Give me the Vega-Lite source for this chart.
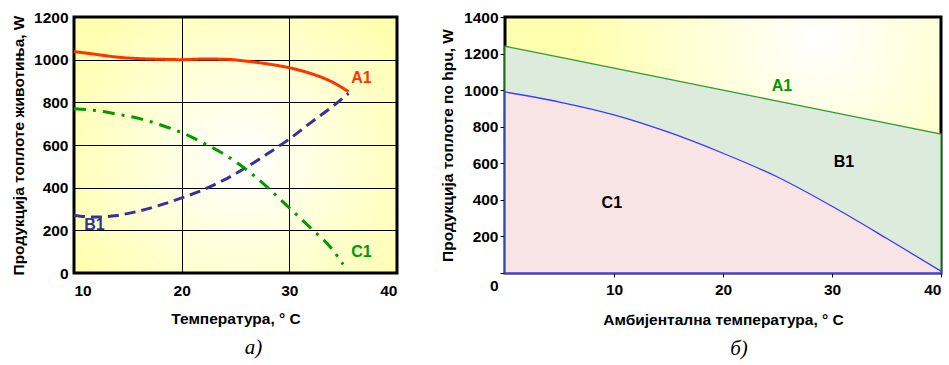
{
  "$schema": "https://vega.github.io/schema/vega-lite/v6.json",
  "padding": {"left": 10, "top": 8, "right": 5, "bottom": 5},
  "background": "white",
  "resolve": {"scale": {"color": "independent", "strokeDash": "independent"}},
  "config": {
    "font": "Liberation Sans",
    "axis": {"labelFont": "Liberation Sans", "labelFontWeight": "bold", "labelFontSize": 15.5, "labelColor": "black", "labelOverlap": false, "format": "d", "titleFont": "Liberation Sans", "titleFontWeight": "bold", "titleFontSize": 15.5, "titleColor": "black"},
    "concat": {"spacing": 40}
  },
  "datasets": {
    "left": [
      {"t": 10, "s": "A1", "w": 1038}, {"t": 12, "s": "A1", "w": 1025}, {"t": 14, "s": "A1", "w": 1012}, {"t": 16, "s": "A1", "w": 1005}, {"t": 18, "s": "A1", "w": 1002}, {"t": 20, "s": "A1", "w": 1000}, {"t": 22, "s": "A1", "w": 1003}, {"t": 24, "s": "A1", "w": 1002}, {"t": 26, "s": "A1", "w": 993}, {"t": 28, "s": "A1", "w": 980}, {"t": 30, "s": "A1", "w": 962}, {"t": 32, "s": "A1", "w": 935}, {"t": 34, "s": "A1", "w": 895}, {"t": 35.5, "s": "A1", "w": 850},
      {"t": 10, "s": "B1", "w": 270}, {"t": 11, "s": "B1", "w": 265}, {"t": 12, "s": "B1", "w": 262}, {"t": 14, "s": "B1", "w": 270}, {"t": 16, "s": "B1", "w": 290}, {"t": 18, "s": "B1", "w": 318}, {"t": 20, "s": "B1", "w": 352}, {"t": 22, "s": "B1", "w": 390}, {"t": 24, "s": "B1", "w": 438}, {"t": 26, "s": "B1", "w": 495}, {"t": 28, "s": "B1", "w": 560}, {"t": 30, "s": "B1", "w": 628}, {"t": 32, "s": "B1", "w": 705}, {"t": 34, "s": "B1", "w": 780}, {"t": 35.5, "s": "B1", "w": 842},
      {"t": 10, "s": "C1", "w": 770}, {"t": 12, "s": "C1", "w": 762}, {"t": 14, "s": "C1", "w": 745}, {"t": 16, "s": "C1", "w": 725}, {"t": 18, "s": "C1", "w": 695}, {"t": 20, "s": "C1", "w": 658}, {"t": 22, "s": "C1", "w": 610}, {"t": 24, "s": "C1", "w": 555}, {"t": 26, "s": "C1", "w": 485}, {"t": 28, "s": "C1", "w": 400}, {"t": 30, "s": "C1", "w": 305}, {"t": 32, "s": "C1", "w": 210}, {"t": 34, "s": "C1", "w": 110}, {"t": 35, "s": "C1", "w": 40}
    ],
    "leftLabels": [
      {"t": 36.7, "w": 915, "s": "A1"},
      {"t": 11.9, "w": 225, "s": "B1"},
      {"t": 36.7, "w": 100, "s": "C1"}
    ],
    "right": [
      {"t": 0, "a1": 1240, "c1": 990}, {"t": 5, "a1": 1180, "c1": 935}, {"t": 10, "a1": 1120, "c1": 865}, {"t": 15, "a1": 1060, "c1": 770}, {"t": 20, "a1": 1000, "c1": 655}, {"t": 25, "a1": 940, "c1": 525}, {"t": 30, "a1": 880, "c1": 365}, {"t": 35, "a1": 820, "c1": 190}, {"t": 40, "a1": 760, "c1": 10}
    ],
    "rightLabels": [
      {"t": 25.4, "w": 1025, "s": "A1"},
      {"t": 31.1, "w": 606, "s": "B1"},
      {"t": 9.8, "w": 385, "s": "C1"}
    ]
  },
  "hconcat": [
    {
      "width": 323,
      "height": 256,
      "view": {"stroke": "black", "strokeWidth": 3, "fill": {"gradient": "radial", "x1": 0.52, "y1": 0.55, "r1": 0, "x2": 0.52, "y2": 0.55, "r2": 0.6, "stops": [{"offset": 0, "color": "#ffffff"}, {"offset": 1, "color": "#ffffb0"}]}},
      "title": {"text": "а)", "orient": "bottom", "font": "Liberation Serif", "fontStyle": "italic", "fontWeight": "normal", "fontSize": 21, "color": "black", "dx": 18, "offset": 10},
      "layer": [
        {
          "data": {"name": "left"},
          "mark": {"type": "line", "strokeWidth": 3, "interpolate": "monotone"},
          "encoding": {
            "x": {"field": "t", "type": "quantitative", "scale": {"domain": [10, 40], "nice": false}, "axis": {"values": [10, 20, 30, 40], "ticks": false, "domain": false, "grid": true, "gridColor": "black", "gridOpacity": 1, "gridWidth": 1, "labelPadding": 10, "labelOverlap": false, "title": "Температура, ° C", "titlePadding": 13}},
            "y": {"field": "w", "type": "quantitative", "scale": {"domain": [0, 1200], "nice": false}, "axis": {"values": [0, 200, 400, 600, 800, 1000, 1200], "ticks": false, "domain": false, "grid": true, "gridColor": "black", "gridOpacity": 1, "gridWidth": 1, "labelPadding": 6, "labelOverlap": false, "title": "Продукција топлоте животиња, W", "titlePadding": 7}},
            "color": {"field": "s", "type": "nominal", "scale": {"domain": ["A1", "B1", "C1"], "range": ["#ff3300", "#333399", "#009900"]}, "legend": null},
            "strokeDash": {"field": "s", "type": "nominal", "scale": {"domain": ["A1", "B1", "C1"], "range": [[1, 0], [11, 6], [12, 7, 3, 7]]}, "legend": null}
          }
        },
        {
          "data": {"name": "leftLabels"},
          "mark": {"type": "text", "fontWeight": "bold", "fontSize": 16, "font": "Liberation Sans"},
          "encoding": {
            "x": {"field": "t", "type": "quantitative"},
            "y": {"field": "w", "type": "quantitative"},
            "text": {"field": "s"},
            "color": {"field": "s", "type": "nominal", "legend": null}
          }
        }
      ]
    },
    {
      "width": 436,
      "height": 256,
      "view": {"stroke": "black", "strokeWidth": 3, "fill": {"gradient": "radial", "x1": 0.72, "y1": 0.25, "r1": 0, "x2": 0.72, "y2": 0.25, "r2": 0.55, "stops": [{"offset": 0, "color": "#ffffff"}, {"offset": 1, "color": "#ffffb0"}]}},
      "title": {"text": "б)", "orient": "bottom", "font": "Liberation Serif", "fontStyle": "italic", "fontWeight": "normal", "fontSize": 21, "color": "black", "dx": 16, "offset": 10},
      "encoding": {
        "x": {"field": "t", "type": "quantitative", "scale": {"domain": [0, 40], "nice": false}, "axis": {"values": [10, 20, 30, 40], "tickSize": 4, "tickColor": "black", "domain": false, "grid": false, "labelPadding": 5, "labelOverlap": false, "title": "Амбијентална температура, ° C", "titlePadding": 15}}
      },
      "layer": [
        {
          "data": {"name": "right"},
          "mark": {"type": "area", "fill": "#dcebdc", "fillOpacity": 1, "opacity": 1, "stroke": "#2e9e2e", "strokeWidth": 1.3, "interpolate": "linear"},
          "encoding": {
            "y": {"field": "a1", "type": "quantitative", "scale": {"domain": [0, 1400], "nice": false}, "axis": {"values": [0, 200, 400, 600, 800, 1000, 1200, 1400], "tickSize": 5, "tickColor": "black", "domain": false, "grid": false, "labelPadding": 2, "labelOverlap": false, "labelOffset": {"condition": {"test": "datum.value === 0", "value": 12}, "value": 0}, "title": "Продукција топлоте по hpu, W", "titlePadding": 8}}
          }
        },
        {
          "data": {"name": "right"},
          "mark": {"type": "area", "fill": "#f8e4e4", "fillOpacity": 1, "opacity": 1, "stroke": "#3a3aff", "strokeWidth": 1.3, "interpolate": "monotone"},
          "encoding": {
            "y": {"field": "c1", "type": "quantitative", "axis": {"values": [0, 200, 400, 600, 800, 1000, 1200, 1400], "tickSize": 5, "tickColor": "black", "domain": false, "grid": false, "labelPadding": 2, "labelOverlap": false, "labelOffset": {"condition": {"test": "datum.value === 0", "value": 12}, "value": 0}, "title": "Продукција топлоте по hpu, W", "titlePadding": 8}}
          }
        },
        {
          "data": {"name": "rightLabels"},
          "mark": {"type": "text", "fontWeight": "bold", "fontSize": 16, "font": "Liberation Sans"},
          "encoding": {
            "y": {"field": "w", "type": "quantitative", "axis": {"values": [0, 200, 400, 600, 800, 1000, 1200, 1400], "tickSize": 5, "tickColor": "black", "domain": false, "grid": false, "labelPadding": 2, "labelOverlap": false, "labelOffset": {"condition": {"test": "datum.value === 0", "value": 12}, "value": 0}, "title": "Продукција топлоте по hpu, W", "titlePadding": 8}},
            "text": {"field": "s"},
            "color": {"field": "s", "type": "nominal", "scale": {"domain": ["A1", "B1", "C1"], "range": ["#009900", "#000000", "#000000"]}, "legend": null}
          }
        }
      ]
    }
  ]
}
